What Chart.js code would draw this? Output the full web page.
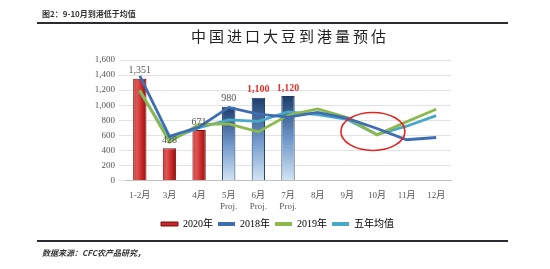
<!DOCTYPE html>
<html>
<head>
<meta charset="utf-8">
<script src="https://cdn.jsdelivr.net/npm/chart.js@4"></script>
<style>
html,body{margin:0;padding:0;background:#fff;}
#wrap{position:relative;width:550px;height:269px;}
</style>
</head>
<body>
<div id="wrap"><canvas id="c" width="550" height="269"></canvas></div>
<script>
const categories = ['1-2月','3月','4月','5月','6月','7月','8月','9月','10月','11月','12月'];
const projFlag = ['', '', '', 'Proj.', 'Proj.', 'Proj.', '', '', '', '', ''];
const actual2020 = [1351, 428, 671];
const proj2020 = [980, 1100, 1120];
const y2018 = [1390, 585, 710, 970, 880, 840, 905, 825, 690, 540, 570];
const y2019 = [1200, 510, 745, 750, 645, 865, 950, 835, 605, 780, 945];
const fiveYearAvg = [1180, 545, 700, 805, 785, 910, 875, 810, 610, 720, 860];
const yTicks = [0, 200, 400, 600, 800, 1000, 1200, 1400, 1600];

const barData = categories.map((c, i) => i < actual2020.length ? actual2020[i] :
  (i < actual2020.length + proj2020.length ? proj2020[i - actual2020.length] : null));
const xLabels = categories.map((c, i) => projFlag[i] ? [c, projFlag[i]] : c);
const nActual = actual2020.length;

const serif = "'Liberation Serif','Noto Sans CJK SC',serif";
const cjk = "'Noto Sans CJK SC','Liberation Sans',sans-serif";

function barFill(ctx) {
  const chart = ctx.chart;
  const i = ctx.dataIndex;
  const fallback = i < nActual ? '#c8282a' : '#5f86b8';
  if (!chart.chartArea || !chart.scales.x || barData[i] == null) return fallback;
  const c = chart.ctx;
  const x = chart.scales.x.getPixelForValue(i);
  if (!isFinite(x)) return fallback;
  if (i < nActual) {
    const g = c.createLinearGradient(x - 7, 0, x + 7, 0);
    g.addColorStop(0, '#c93a38');
    g.addColorStop(0.3, '#de5551');
    g.addColorStop(0.7, '#c02220');
    g.addColorStop(1, '#8e1212');
    return g;
  }
  const top = chart.scales.y.getPixelForValue(barData[i]);
  const bot = chart.scales.y.getPixelForValue(0);
  if (!isFinite(top) || !isFinite(bot) || top === bot) return fallback;
  const g = c.createLinearGradient(0, top, 0, bot);
  g.addColorStop(0, '#1d3d6c');
  g.addColorStop(0.5, '#6d96c8');
  g.addColorStop(1, '#d3e4f4');
  return g;
}

const legendShift = {
  id: 'legendShift',
  afterLayout(chart) {
    if (chart.legend) { chart.legend.left += 22; chart.legend.right += 22; }
  }
};

const decor = {
  id: 'decor',
  afterDraw(chart) {
    const c = chart.ctx;
    const xs = chart.scales.x, ys = chart.scales.y;
    c.save();
    c.fillStyle = '#333';
    c.font = "bold 8px " + cjk;
    c.textBaseline = 'middle';
    c.textAlign = 'left';
    c.fillText('图2：9-10月到港低于均值', 42, 14);
    c.fillStyle = '#2b2b33';
    c.fillRect(37, 22, 471, 2);
    c.fillRect(37, 240, 471, 2);
    c.fillStyle = '#333';
    c.font = "italic bold 8px " + cjk;
    c.fillText('数据来源：CFC农产品研究，', 42, 253);
    c.fillStyle = '#222';
    c.font = "15px " + cjk;
    c.textAlign = 'center';
    try { c.letterSpacing = '3px'; } catch (e) {}
    c.fillText('中国进口大豆到港量预估', 290, 36);
    try { c.letterSpacing = '0px'; } catch (e) {}
    c.textBaseline = 'bottom';
    barData.forEach((v, i) => {
      if (v == null) return;
      const x = xs.getPixelForValue(i);
      const y = ys.getPixelForValue(v) - 3;
      const txt = v.toLocaleString('en-US');
      if (i >= 4) {
        c.fillStyle = '#e0302a';
        c.font = "bold 10px " + serif;
      } else {
        c.fillStyle = '#555';
        c.font = "10px " + serif;
      }
      c.fillText(txt, x, y);
    });
    c.strokeStyle = '#e2231f';
    c.lineWidth = 1.6;
    c.beginPath();
    c.ellipse(xs.getPixelForValue(8) - 4, ys.getPixelForValue(650), 32, 19, 0, 0, Math.PI * 2);
    c.stroke();
    c.restore();
  }
};

new Chart(document.getElementById('c'), {
  data: {
    labels: xLabels,
    datasets: [
      { type: 'bar', label: '2020年', data: barData, order: 10,
        backgroundColor: barFill,
        borderColor: (ctx) => ctx.dataIndex < nActual ? '#7a1010' : '#1f3a66',
        borderWidth: 1, barPercentage: 0.45, categoryPercentage: 1 },
      { type: 'line', label: '2018年', data: y2018, order: 1, borderColor: '#3f6db3', backgroundColor: '#3f6db3',
        borderWidth: 2.8, pointRadius: 0, tension: 0 },
      { type: 'line', label: '2019年', data: y2019, order: 2, borderColor: '#8db84a', backgroundColor: '#8db84a',
        borderWidth: 2.8, pointRadius: 0, tension: 0 },
      { type: 'line', label: '五年均值', data: fiveYearAvg, order: 3, borderColor: '#47a8c8', backgroundColor: '#47a8c8',
        borderWidth: 2.8, pointRadius: 0, tension: 0 }
    ]
  },
  options: {
    responsive: false,
    animation: false,
    layout: { padding: { left: 60, right: 99, top: 60, bottom: 30 } },
    plugins: {
      title: { display: false },
      tooltip: { enabled: false },
      legend: {
        position: 'bottom',
        labels: {
          boxWidth: 17, boxHeight: 4, padding: 5,
          color: '#666', font: { size: 10, family: serif },
          generateLabels(chart) {
            return chart.data.datasets.map((d, i) => ({
              text: d.label,
              fillStyle: i === 0 ? '#c8282a' : d.borderColor,
              strokeStyle: i === 0 ? '#7a1010' : d.borderColor,
              lineWidth: i === 0 ? 1 : 0,
              datasetIndex: i
            }));
          }
        }
      }
    },
    scales: {
      x: {
        grid: { display: false },
        border: { color: '#bfbfbf' },
        ticks: { color: '#555', font: { size: 9, family: serif }, maxRotation: 0, autoSkip: false, padding: 2 }
      },
      y: {
        min: 0, max: 1600,
        afterFit(axis) { axis.width = 65; },
        afterBuildTicks(axis) { axis.ticks = yTicks.map(v => ({ value: v })); },
        grid: { color: '#e3e3e3', drawTicks: true, tickLength: 6, tickColor: '#e3e3e3' },
        border: { display: false },
        ticks: { color: '#555', font: { size: 9, family: serif }, padding: 4,
          callback: (v) => v.toLocaleString('en-US') }
      }
    }
  },
  plugins: [legendShift, decor]
});
</script>
</body>
</html>
